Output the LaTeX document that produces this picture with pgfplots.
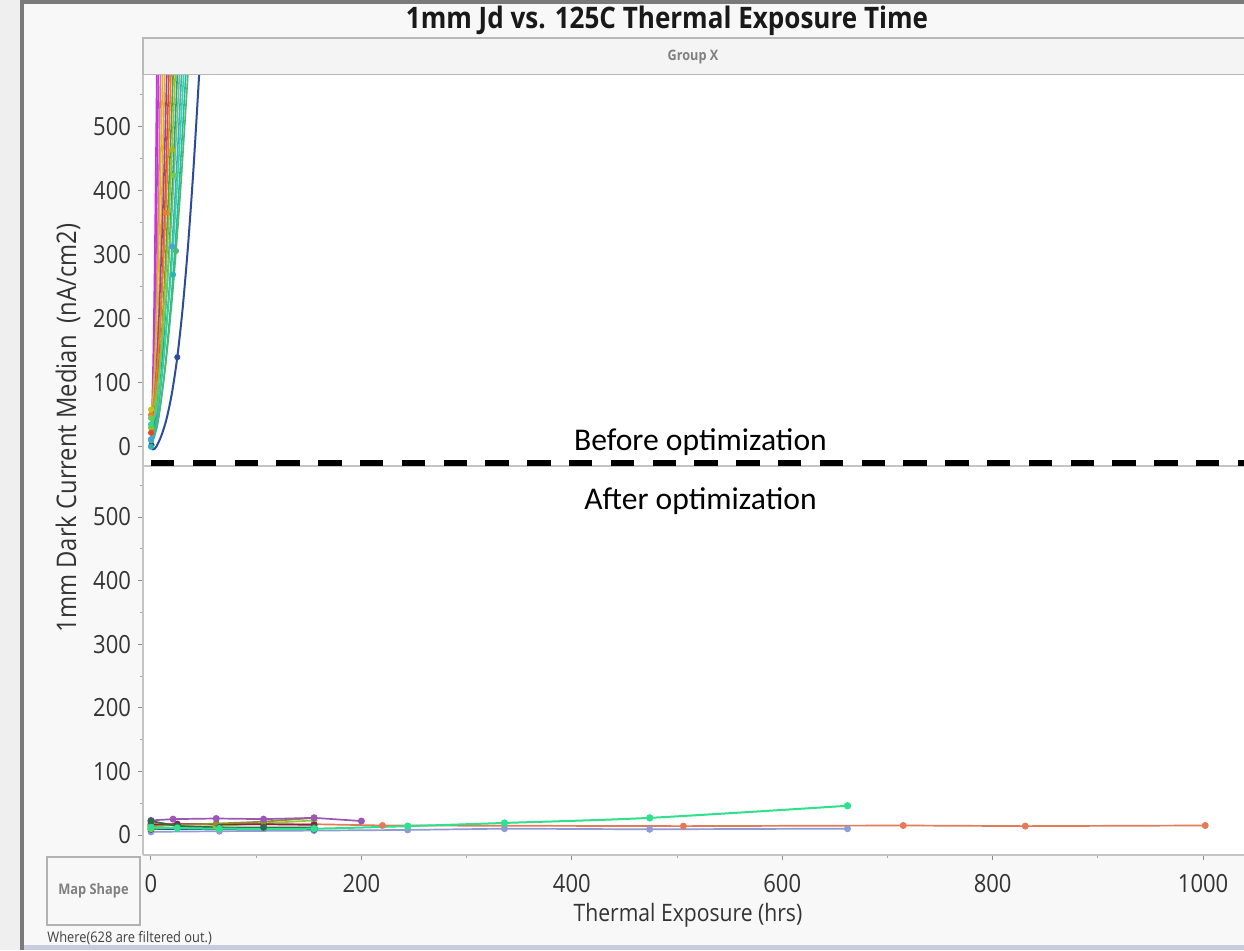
\documentclass[border=0pt]{standalone}
\usepackage{pgfplots}
\pgfplotsset{compat=1.18}
\usepackage{fontspec}
\setmainfont{Open Sans}[FakeStretch=0.88]
\newfontfamily\calib{Carlito}

\definecolor{bgout}{HTML}{EFEFEF}
\definecolor{bgin}{HTML}{F8F8F8}
\definecolor{framegray}{HTML}{7A7A7A}
\definecolor{bandblue}{HTML}{C6CBE0}
\definecolor{hdr}{HTML}{F4F4F4}
\definecolor{axgray}{HTML}{C4C4C4}
\definecolor{txt}{HTML}{333333}

\definecolor{cMag}{HTML}{D62FD0}
\definecolor{cVio}{HTML}{B43CE6}
\definecolor{cPink}{HTML}{E86AA8}
\definecolor{cYel}{HTML}{CDBE1A}
\definecolor{cOra}{HTML}{F5A623}
\definecolor{cPur}{HTML}{8E44AD}
\definecolor{cRed}{HTML}{E0492D}
\definecolor{cOra2}{HTML}{EE7D22}
\definecolor{cGrn}{HTML}{3AAA4A}
\definecolor{cOli}{HTML}{A8B820}
\definecolor{cTeal}{HTML}{1FA0A8}
\definecolor{cLgr}{HTML}{6CCB5F}
\definecolor{cSky}{HTML}{45A5D8}
\definecolor{cMint}{HTML}{2EDB8C}
\definecolor{cTeal2}{HTML}{2AB5B0}
\definecolor{cGrn2}{HTML}{50B86C}
\definecolor{cBlue}{HTML}{2B4C9B}

\definecolor{bPur}{HTML}{9C55B8}
\definecolor{bOli}{HTML}{958C2E}
\definecolor{bOra}{HTML}{E47A58}
\definecolor{bMint}{HTML}{2FE08C}
\definecolor{bLav}{HTML}{8E9CD3}
\definecolor{bDgr}{HTML}{2A6B4E}
\definecolor{bMar}{HTML}{8A1F45}
\definecolor{bLime}{HTML}{8BCB3C}
\definecolor{bNavy}{HTML}{2C4A8C}

\pgfplotsset{
  panel/.style={
    scale only axis,
    width=550.5pt,
    xmin=-7.6, xmax=1038.9,
    ymin=-30, ymax=581,
    axis line style={draw=none},
    tick pos=left,
    tick align=outside,
    ytick={0,100,200,300,400,500},
    minor ytick={50,150,250,350,450,550},
    major tick length=2.5pt,
    minor tick length=1.7pt,
    every tick/.style={draw=black!45, line width=0.5pt},
    every minor tick/.style={draw=black!35, line width=0.5pt},
    tick label style={font=\fontsize{12.5}{13}\selectfont, text=txt},
    /pgf/number format/assume math mode=true,
    /pgf/number format/1000 sep={},
    axis background/.style={fill=white},
  },
  tc/.style={smooth, line width=0.8pt, no markers, color=#1},
  tm/.style={only marks, mark=*, mark size=1.3pt, color=#1},
  bc/.style={line width=0.85pt, mark=*, mark size=1.3pt, color=#1, mark options={solid, fill=#1}},
}

\begin{document}
\begin{tikzpicture}
\useasboundingbox (0,0) rectangle (622pt,475pt);
% backgrounds / window frame
\fill[bgout] (0,0) rectangle (622pt,475pt);
\fill[bgin] (12pt,2.5pt) rectangle (622pt,473pt);
\fill[framegray] (10pt,0) rectangle (12pt,475pt);
\fill[framegray] (10pt,473pt) rectangle (622pt,475pt);
\fill[bandblue] (12pt,0) rectangle (622pt,2.5pt);

% title
\node[font=\bfseries\fontsize{14.8}{15}\selectfont, text=black!90] at (333.5pt,464.5pt) {1mm Jd vs. 125C Thermal Exposure Time};

% Group X header
\filldraw[fill=hdr, draw=black!28, line width=0.6pt] (71.5pt,437.5pt) rectangle (625pt,456pt);
\node[font=\bfseries\fontsize{7.2}{8}\selectfont, text=black!50] at (346.5pt,446.5pt) {Group X};

% ---------------- top panel (before optimization) ----------------
\begin{axis}[panel, at={(71.5pt,242pt)}, anchor=south west, height=195.5pt,
  xtick=\empty]
\addplot[tc=cMag] coordinates {(0,30)(1.1,66)(2.2,146)(3.3,261)(4.4,406)(5.5,580)(5.78,628)};
\addplot[tc=cVio] coordinates {(0,10)(1.4,47)(2.8,130)(4.2,249)(5.6,400)(7,580)(7.35,629)};
\addplot[tc=cPink] coordinates {(0,0)(1.8,38)(3.6,122)(5.4,243)(7.2,397)(9,580)(9.45,630)};
\addplot[tc=cYel] coordinates {(0,50)(2.2,84)(4.4,162)(6.6,272)(8.8,413)(11,580)(11.55,626)};
\addplot[tc=cOra] coordinates {(0,10)(2.6,47)(5.2,130)(7.8,249)(10.4,400)(13,580)(13.65,629)};
\addplot[tc=cPur] coordinates {(0,30)(3,66)(6,146)(9,261)(12,406)(15,580)(15.75,628)};
\addplot[tc=cRed] coordinates {(0,0)(3.4,38)(6.8,122)(10.2,243)(13.6,397)(17,580)(17.85,630)};
\addplot[tc=cOra2] coordinates {(0,50)(3.8,84)(7.6,162)(11.4,272)(15.2,413)(19,580)(19.95,626)};
\addplot[tc=cGrn] coordinates {(0,10)(4.2,47)(8.4,130)(12.6,249)(16.8,400)(21,580)(22.05,629)};
\addplot[tc=cOli] coordinates {(0,30)(4.6,66)(9.2,146)(13.8,261)(18.4,406)(23,580)(24.15,628)};
\addplot[tc=cTeal] coordinates {(0,0)(5,38)(10,122)(15,243)(20,397)(25,580)(26.25,630)};
\addplot[tc=cLgr] coordinates {(0,50)(5.4,84)(10.8,162)(16.2,272)(21.6,413)(27,580)(28.35,626)};
\addplot[tc=cSky] coordinates {(0,10)(5.8,47)(11.6,130)(17.4,249)(23.2,400)(29,580)(30.45,629)};
\addplot[tc=cMint] coordinates {(0,30)(6.2,66)(12.4,146)(18.6,261)(24.8,406)(31,580)(32.55,628)};
\addplot[tc=cTeal2] coordinates {(0,0)(6.6,38)(13.2,122)(19.8,243)(26.4,397)(33,580)(34.65,630)};
\addplot[tc=cGrn2] coordinates {(0,10)(7,47)(14,130)(21,249)(28,400)(35,580)(36.75,629)};
\addplot[tc=cBlue, line width=1pt] coordinates {(0,3)(2,-4)(5,0)(10,18)(15,45)(20,85)(25,140)(30,215)(35,310)(40,425)(45,560)(47,620)};
% measured points
\addplot[tm=cBlue] coordinates {(0.5,3)(25,140)};
\addplot[tm=cGrn2] coordinates {(0,10)(23.8,306)};
\addplot[tm=cTeal2] coordinates {(0,0)(21,269)};
\addplot[tm=cSky] coordinates {(0,12)(20,313)};
\addplot[tm=cOra2] coordinates {(0,50)(14,366)};
\addplot[tm=cOli] coordinates {(0,30)(20,464)};
\addplot[tm=cLgr] coordinates {(0,45)(22,424)};
\addplot[tm=cYel] coordinates {(0,58)};
\addplot[tm=cRed] coordinates {(0,22)};
\addplot[tm=cMint] coordinates {(0,35)};
\end{axis}

% ---------------- bottom panel (after optimization) ----------------
\begin{axis}[panel, at={(71.5pt,47.5pt)}, anchor=south west, height=194.5pt,
  ymin=-31.4, ymax=580.2,
  xtick={0,200,400,600,800,1000},
  minor xtick={100,300,500,700,900},
  xticklabel style={yshift=-3.5pt}]
\addplot[bc=bLav] coordinates {(0,5)(65,6)(155,7)(244,8)(336,10)(474,9)(662,10)};
\addplot[bc=bOra] coordinates {(0,19)(25,17)(155,17)(220,15)(506,14)(715,15)(831,14)(1002,15)};
\addplot[bc=bNavy] coordinates {(0,9)(155,9)};
\addplot[bc=bLime] coordinates {(0,10)(62,14)(155,23)};
\addplot[bc=bMar] coordinates {(0,16)(25,17)(107,17)(155,16)};
\addplot[bc=bOli] coordinates {(0,14)(62,18)(107,21)(155,27)};
\addplot[bc=bPur] coordinates {(0,23)(21,25)(62,26)(107,25)(155,27)(200,22)};
\addplot[bc=bDgr] coordinates {(0,22)(25,14)(65,12)(107,12)(155,12)};
\addplot[bc=bMint, smooth, line width=1pt] coordinates {(0,12)(25,11)(65,10)(155,10)(244,14)(336,19)(474,27)(662,46)};
\end{axis}

% axis frame lines
\draw[axgray, line width=0.6pt] (71.5pt,47.5pt) -- (71.5pt,437.5pt);
\draw[axgray, line width=0.6pt] (71.5pt,47.5pt) -- (622pt,47.5pt);
\draw[axgray, line width=0.6pt] (71.5pt,242pt) -- (622pt,242pt);

% separator
\draw[black, line width=2.6pt, dash pattern=on 11.7pt off 9.2pt] (75.5pt,243.5pt) -- (622pt,243.5pt);
\node[anchor=base, font=\calib\fontsize{15.8}{16}\selectfont] at (350.25pt,250pt) {Before optimization};
\node[anchor=base, font=\calib\fontsize{15.8}{16}\selectfont] at (350.25pt,220.5pt) {After optimization};

% axis labels
\node[rotate=90, font=\fontsize{13.5}{14}\selectfont, text=txt] at (34pt,261pt) {1mm Dark Current Median\ \ (nA/cm2)};
\node[font=\fontsize{12}{13}\selectfont, text=txt] at (344pt,17.5pt) {Thermal Exposure (hrs)};

% map shape box and footer
\filldraw[fill=bgin, draw=black!30, line width=0.6pt] (23.5pt,12.5pt) rectangle (70pt,46.5pt);
\node[font=\bfseries\fontsize{7.3}{8}\selectfont, text=black!50] at (46.75pt,29.5pt) {Map Shape};
\node[anchor=west, inner sep=0pt, font=\fontsize{7.3}{8}\selectfont, text=black!75] at (23.5pt,6pt) {Where(628 are filtered out.)};
\end{tikzpicture}
\end{document}
